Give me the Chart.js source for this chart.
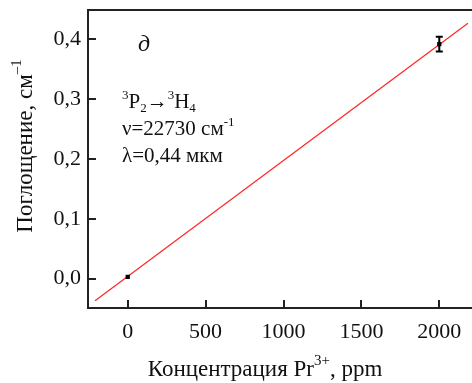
<!DOCTYPE html>
<html>
<head>
<meta charset="utf-8">
<script src="https://cdn.jsdelivr.net/npm/chart.js@4"></script>
<style>
html,body{margin:0;padding:0;background:#fff;}
#wrap{width:472px;height:383px;position:relative;}
</style>
</head>
<body>
<div id="wrap"><canvas id="c" width="472" height="383"></canvas></div>
<script>
// ---- data ----
const concentration = [0, 2000];              // ppm
const absorption = [0.003, 0.392];            // cm^-1
const absorptionErr = [0.002, 0.0125];        // error bar half-heights
const fitX = [-210, 2184];                    // linear fit endpoints (ppm)
const fitY = [-0.037, 0.427];                 // linear fit endpoints (cm^-1)
const xTicks = [0, 500, 1000, 1500, 2000];
const yTicks = [0.0, 0.1, 0.2, 0.3, 0.4];
const xRange = [-255, 2210];
const yRange = [-0.049, 0.449];
const panelLabel = 'д';
const noteLines = ['ν=22730 см', 'λ=0,44 мкм'];

const SERIF = '"Liberation Serif", "DejaVu Serif", serif';
const fmt = v => v.toFixed(1).replace('.', ',');

const decor = {
  id: 'decor',
  afterDraw(chart) {
    const ctx = chart.ctx, ca = chart.chartArea;
    const xs = chart.scales.x, ys = chart.scales.y;
    ctx.save();
    ctx.fillStyle = '#222';
    // top frame line
    ctx.fillRect(ca.left - 1, Math.round(ca.top) - 1, chart.width - ca.left + 1, 2);
    // inward ticks
    yTicks.forEach(v => {
      const y = Math.round(ys.getPixelForValue(v));
      ctx.fillRect(ca.left, y - 1, 8, 2);
    });
    xTicks.forEach(v => {
      const x = Math.round(xs.getPixelForValue(v));
      ctx.fillRect(x - 1, ca.bottom - 8, 2, 8);
    });
    // error bars
    ctx.strokeStyle = '#000';
    ctx.lineWidth = 2;
    concentration.forEach((c, i) => {
      const e = absorptionErr[i];
      if (e < 0.004) return;
      const x = xs.getPixelForValue(c);
      const y1 = ys.getPixelForValue(absorption[i] + e);
      const y2 = ys.getPixelForValue(absorption[i] - e);
      ctx.beginPath();
      ctx.moveTo(x, y1); ctx.lineTo(x, y2);
      ctx.moveTo(x - 3.5, y1); ctx.lineTo(x + 3.5, y1);
      ctx.moveTo(x - 3.5, y2); ctx.lineTo(x + 3.5, y2);
      ctx.stroke();
    });
    // texts
    ctx.fillStyle = '#111';
    ctx.textBaseline = 'alphabetic';
    ctx.textAlign = 'left';
    ctx.font = 'italic 24px ' + SERIF;
    ctx.fillText(panelLabel, 138, 51);
    // transition line
    let x = 122;
    const base1 = 108;
    const big = '21px ' + SERIF, small = '13px ' + SERIF;
    const parts = [
      ['3', small, -9], ['P', big, 0], ['2', small, 4], ['→', big, 0],
      ['3', small, -9], ['H', big, 0], ['4', small, 4]
    ];
    parts.forEach(p => {
      ctx.font = p[1];
      ctx.fillText(p[0], x, base1 + p[2]);
      x += ctx.measureText(p[0]).width;
    });
    ctx.font = big;
    ctx.fillText(noteLines[0], 122, 135);
    let w = ctx.measureText(noteLines[0]).width;
    ctx.font = small;
    ctx.fillText('-1', 122 + w, 126);
    ctx.font = big;
    ctx.fillText(noteLines[1], 122, 162);

    // x title
    const t1 = 'Концентрация Pr', t2 = '3+', t3 = ', ppm';
    const TF = '23px ' + SERIF, SF = '15px ' + SERIF;
    ctx.font = TF; const w1 = ctx.measureText(t1).width;
    ctx.font = SF; const w2 = ctx.measureText(t2).width;
    ctx.font = TF; const w3 = ctx.measureText(t3).width;
    let sx = 265 - (w1 + w2 + w3) / 2;
    const xb = 376;
    ctx.font = TF; ctx.fillText(t1, sx, xb); sx += w1;
    ctx.font = SF; ctx.fillText(t2, sx, xb - 11); sx += w2;
    ctx.font = TF; ctx.fillText(t3, sx, xb);

    // y title
    ctx.save();
    ctx.translate(32, 146);
    ctx.rotate(-Math.PI / 2);
    const y1t = 'Поглощение, см', y2t = '–1';
    ctx.font = TF; const yw1 = ctx.measureText(y1t).width;
    ctx.font = SF; const yw2 = ctx.measureText(y2t).width;
    let sy = -(yw1 + yw2) / 2;
    ctx.font = TF; ctx.fillText(y1t, sy, 0); sy += yw1;
    ctx.font = SF; ctx.fillText(y2t, sy, -11);
    ctx.restore();
    ctx.restore();
  }
};

new Chart(document.getElementById('c'), {
  type: 'scatter',
  data: {
    datasets: [
      {
        type: 'line',
        data: fitX.map((v, i) => ({x: v, y: fitY[i]})),
        borderColor: '#ff2a2a',
        borderWidth: 1.3,
        pointRadius: 0,
        fill: false,
        order: 2
      },
      {
        data: concentration.map((v, i) => ({x: v, y: absorption[i]})),
        pointStyle: 'rect',
        pointRadius: 3,
        backgroundColor: '#000',
        borderColor: '#000',
        borderWidth: 0,
        order: 1
      }
    ]
  },
  options: {
    responsive: false,
    animation: false,
    events: [],
    layout: {autoPadding: false, padding: {top: 10, right: 0, left: 0, bottom: 0}},
    plugins: {legend: {display: false}, tooltip: {enabled: false}},
    scales: {
      x: {
        type: 'linear',
        min: xRange[0], max: xRange[1],
        afterBuildTicks: s => { s.ticks = xTicks.map(v => ({value: v})); },
        afterFit: s => { s.height = 75; s.paddingLeft = 0; s.paddingRight = 0; },
        grid: {display: false, drawTicks: false},
        border: {display: true, color: '#222', width: 2},
        ticks: {
          padding: 11, color: '#111',
          font: {family: SERIF, size: 22},
          maxRotation: 0, autoSkip: false,
          callback: v => String(v)
        }
      },
      y: {
        type: 'linear',
        min: yRange[0], max: yRange[1],
        afterBuildTicks: s => { s.ticks = yTicks.map(v => ({value: v})); },
        afterFit: s => { s.width = 88; s.paddingTop = 0; s.paddingBottom = 0; },
        grid: {display: false, drawTicks: false},
        border: {display: true, color: '#222', width: 2},
        ticks: {
          padding: 7, color: '#111',
          font: {family: SERIF, size: 22},
          callback: v => fmt(v)
        }
      }
    }
  },
  plugins: [decor]
});
</script>
</body>
</html>
